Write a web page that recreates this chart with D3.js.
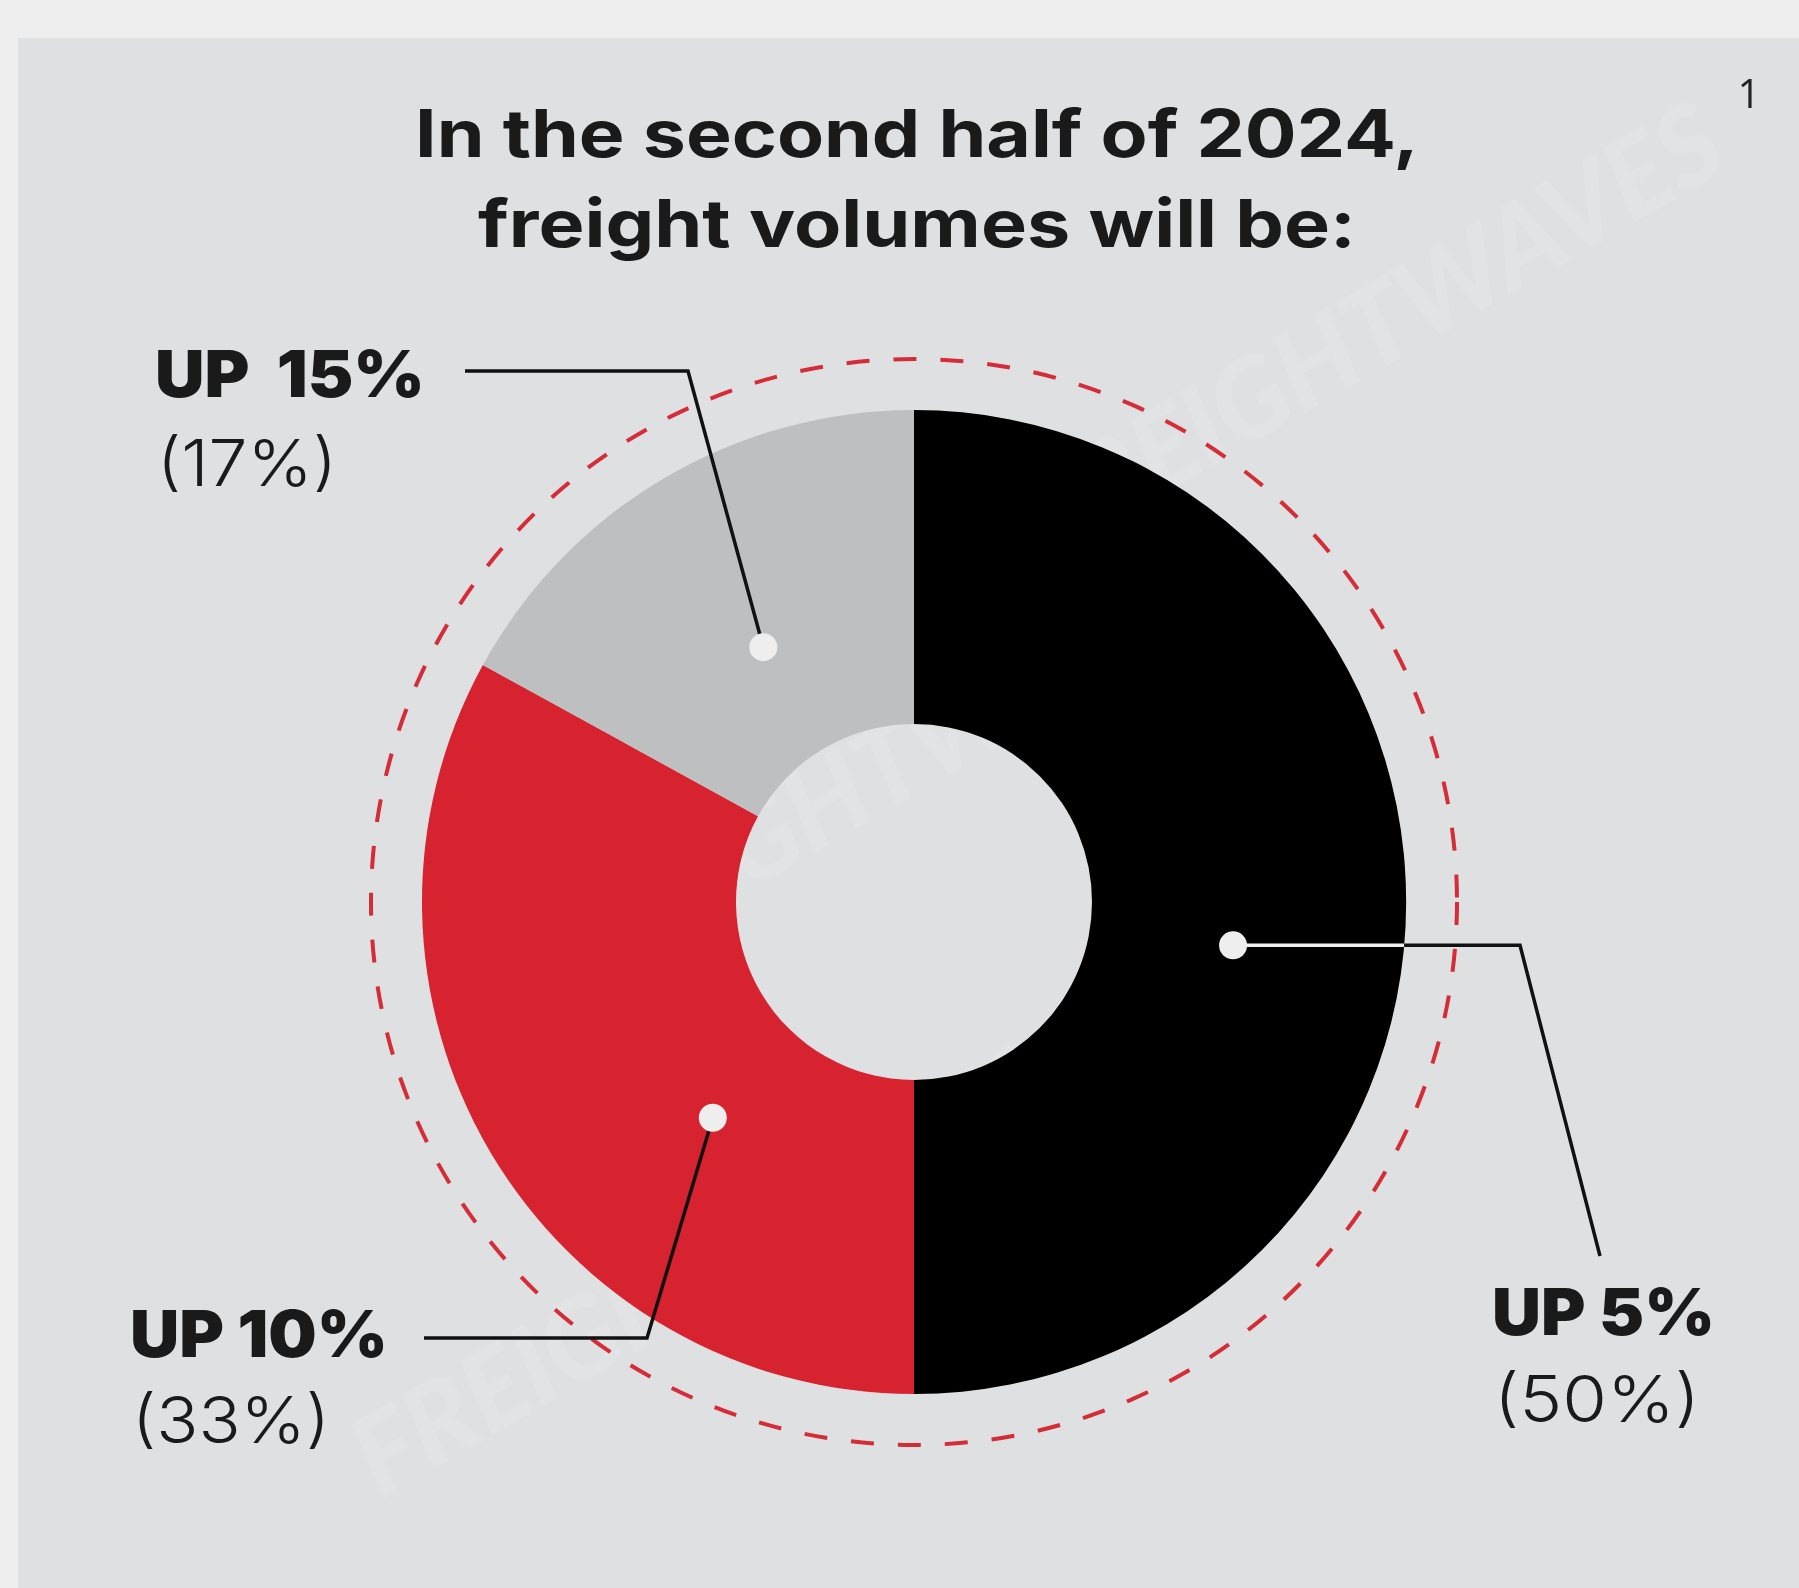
<!DOCTYPE html>
<html>
<head>
<meta charset="utf-8">
<script src="https://cdn.jsdelivr.net/npm/d3@7"></script>
<style>
  html, body { margin: 0; padding: 0; background: #eeeeee; }
  svg { display: block; }
</style>
</head>
<body>
<svg id="chart" width="1799" height="1588"></svg>
<script>
// ---- Data ----
const titleLines = ["In the second half of 2024,", "freight volumes will be:"];
const categories = ["UP 5%", "UP 10%", "UP  15%"];
const shares = [50, 33, 17];
const shareLabels = ["(50%)", "(33%)", "(17%)"];
const sliceColors = ["#000000", "#d7232f", "#bebfc1"];
const pageNumber = "1";

// ---- Layout ----
const W = 1799, H = 1588;
const cx = 914, cy = 902;
const rOuter = 492, rInner = 178, rDash = 543;

const svg = d3.select("#chart");

// fit a text element horizontally to a target width (left anchored or centered)
function fitWidth(sel, target, anchorX, centered) {
  const w = sel.node().getComputedTextLength();
  const s = target / w;
  const y = +sel.attr("y");
  sel.attr("x", 0).attr("y", 0)
    .attr("transform", `translate(${anchorX},${y}) scale(${s},1)`);
}

// backgrounds
svg.append("rect").attr("x", 0).attr("y", 0).attr("width", W).attr("height", H).attr("fill", "#eeeeee");
svg.append("rect").attr("x", 18).attr("y", 38).attr("width", W - 18).attr("height", H - 38).attr("fill", "#dfe0e2");

// faint watermark
const wm = svg.append("g").attr("fill", "#ffffff").attr("opacity", 0.1)
  .attr("font-family", "Lato, sans-serif").attr("font-weight", 900).attr("font-style", "italic")
  .attr("font-size", 110);
[[560, 1000], [1050, 560], [380, 1500]].forEach(p => {
  wm.append("text").attr("transform", `translate(${p[0]},${p[1]}) rotate(-30)`).text("FREIGHTWAVES");
});

// title
const title = svg.append("g").attr("font-family", "Inter, 'Open Sans', sans-serif")
  .attr("font-weight", 700).attr("fill", "#1a1a1a").attr("text-anchor", "middle");
const titleWidths = [1004, 878];
title.selectAll("text").data(titleLines).join("text")
  .attr("x", 917).attr("y", (d, i) => 157 + i * 90)
  .attr("font-size", 66).text(d => d)
  .each(function (d, i) { fitWidth(d3.select(this), titleWidths[i], 917, true); });

// page number
svg.append("text").attr("x", 1749).attr("y", 108).attr("text-anchor", "middle")
  .attr("font-family", "'Open Sans', sans-serif").attr("font-weight", 400).attr("font-size", 40)
  .attr("fill", "#222").text(pageNumber);

// donut
const pie = d3.pie().sort(null).value(d => d).startAngle(0).endAngle(2 * Math.PI);
const arcs = pie(shares);
const arc = d3.arc().innerRadius(rInner).outerRadius(rOuter);
const g = svg.append("g").attr("transform", `translate(${cx},${cy})`);

g.append("circle").attr("r", rDash).attr("fill", "none").attr("stroke", "#d42d38")
  .attr("stroke-width", 4).attr("stroke-dasharray", "23 24");

g.selectAll("path.slice").data(arcs).join("path").attr("class", "slice")
  .attr("d", arc).attr("fill", (d, i) => sliceColors[i]);

// leader layout: fraction along slice, radius of dot, elbow & end points, text anchor
const leaders = [
  { t: 0.543, r: 322, elbow: [1520, null], end: [1600, 1256], tx: 1492, ty: 1335, ty2: 1422, w1: 223, w2: 206 },
  { t: 0.362, r: 295, elbow: [647, 1338], end: [424, 1338], tx: 130, ty: 1357, ty2: 1443, w1: 258, w2: 198 },
  { t: 0.5,   r: 296, elbow: [688, 371], end: [465, 371], tx: 155, ty: 397, ty2: 486, w1: 270, w2: 180 }
];

const lines = svg.append("g");
arcs.forEach((a, i) => {
  const L = leaders[i];
  const ang = a.startAngle + L.t * (a.endAngle - a.startAngle);
  const dx = cx + L.r * Math.sin(ang), dy = cy - L.r * Math.cos(ang);
  const elbow = [L.elbow[0], L.elbow[1] === null ? dy : L.elbow[1]];
  const pts = [[dx, dy], elbow, L.end];
  lines.append("path").attr("d", d3.line()(pts)).attr("fill", "none")
    .attr("stroke", "#111").attr("stroke-width", 3.5).attr("stroke-linejoin", "miter");
  if (i === 0) {
    const xEdge = cx + Math.sqrt(rOuter * rOuter - (dy - cy) * (dy - cy));
    lines.append("line").attr("x1", dx).attr("y1", dy).attr("x2", xEdge).attr("y2", dy)
      .attr("stroke", "#f0f0f0").attr("stroke-width", 3.5);
  }
  lines.append("circle").attr("cx", dx).attr("cy", dy).attr("r", 14).attr("fill", "#eeeeee");

  const t1 = svg.append("text").attr("x", L.tx).attr("y", L.ty)
    .attr("font-family", "Inter, Lato, sans-serif").attr("font-weight", 900)
    .attr("font-size", 64).attr("fill", "#1a1a1a")
    .attr("xml:space", "preserve")
    .text(categories[i]);
  fitWidth(t1, L.w1, L.tx);
  const t2 = svg.append("text").attr("x", L.tx + 2).attr("y", L.ty2)
    .attr("font-family", "Inter, Lato, sans-serif").attr("font-weight", 300)
    .attr("font-size", 64).attr("fill", "#1a1a1a")
    .text(shareLabels[i]);
  fitWidth(t2, L.w2, L.tx + 2);
});
</script>
</body>
</html>
